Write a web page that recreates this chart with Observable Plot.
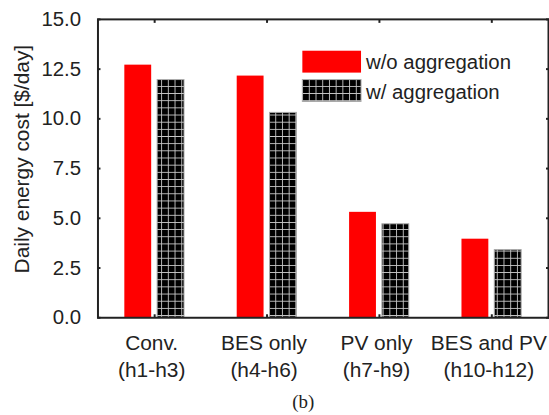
<!DOCTYPE html>
<html><head><meta charset="utf-8">
<script src="https://cdn.jsdelivr.net/npm/d3@7"></script>
<script src="https://cdn.jsdelivr.net/npm/@observablehq/plot@0.6"></script>
<style>
html,body{margin:0;padding:0;background:#fff;overflow:hidden;width:549px;height:415px}
#chart{position:relative}
</style></head><body><div id="chart"></div>
<script>
const categories = ["Conv.\n(h1-h3)", "BES only\n(h4-h6)", "PV only\n(h7-h9)", "BES and PV\n(h10-h12)"];
const seriesNames = ["w/o aggregation", "w/ aggregation"];
const withoutAgg = [12.7, 12.15, 5.3, 3.95];
const withAgg = [11.95, 10.3, 4.7, 3.4];
const yTicks = [0, 2.5, 5, 7.5, 10, 12.5, 15];
const yLabel = "Daily energy cost [$/day]";
const caption = "(b)";

const data = categories.flatMap((c, i) => [
  {cat: c, series: seriesNames[0], value: withoutAgg[i]},
  {cat: c, series: seriesNames[1], value: withAgg[i]}
]);

const font = "'Liberation Sans', Arial, sans-serif";
const ink = "#222";

const plot = Plot.plot({
  width: 552, height: 415,
  marginLeft: 98, marginRight: 1, marginTop: 19, marginBottom: 96,
  style: {fontFamily: font, fontSize: "20px", color: ink, background: "transparent", overflow: "visible"},
  x: {domain: categories, paddingInner: 0.469, paddingOuter: 0.2345, label: null},
  y: {domain: [0, 15], label: null},
  marks: [
    Plot.barY(data.filter(d => d.series === seriesNames[0]), {x: "cat", y: "value", fill: "#ff0000", insetRight: 33}),
    Plot.barY(data.filter(d => d.series === seriesNames[1]), {x: "cat", y: "value", fill: "url(#gridHatch)", stroke: "#aaa", strokeWidth: 1, insetLeft: 33}),
    Plot.frame({stroke: ink, strokeWidth: 2}),
    Plot.axisY({ticks: yTicks, tickFormat: d3.format(".1f"), tickSize: 0, tickPadding: 17, fontSize: 20.5}),
    Plot.axisY({ticks: yTicks, tickSize: 3, dx: 3, text: null, strokeWidth: 2}),
    Plot.axisY({anchor: "right", ticks: yTicks, tickSize: 3, dx: -3, text: null, strokeWidth: 2}),
    Plot.axisX({tickSize: 0, tickPadding: 13, fontSize: 21, lineHeight: 1.3, dx: -3}),
    Plot.axisX({tickSize: 3, dy: -3, text: null, strokeWidth: 2}),
    Plot.axisX({anchor: "top", tickSize: 3, dy: 3, text: null, strokeWidth: 2})
  ]
});

const svg = d3.select(plot);
const defs = svg.insert("defs", ":first-child");
const pat = defs.append("pattern").attr("id", "gridHatch").attr("patternUnits", "userSpaceOnUse")
  .attr("width", 6.75).attr("height", 7.2);
pat.append("rect").attr("width", 6.75).attr("height", 7.2).attr("fill", "#c8c8c8");
pat.append("rect").attr("x", 0.9).attr("y", 0.9).attr("width", 5.85).attr("height", 6.3).attr("fill", "#000");

// legend
const legend = svg.append("g").attr("font-family", font).attr("font-size", 20.5).attr("fill", ink).attr("text-anchor", "start");
const fills = ["#ff0000", "url(#gridHatch)"];
seriesNames.forEach((s, i) => {
  legend.append("rect").attr("x", 304).attr("y", 51 + i * 29).attr("width", 59).attr("height", 22)
    .attr("fill", fills[i]).attr("stroke", i ? "#aaa" : "none");
  legend.append("text").attr("x", 368).attr("y", 62 + i * 30).attr("dy", "0.35em").text(s);
});

// y title
svg.append("text").attr("transform", "translate(22,160) rotate(-90)")
  .attr("text-anchor", "middle").attr("dy", "0.35em")
  .attr("font-family", font).attr("font-size", 21).attr("fill", ink).text(yLabel);

// caption
svg.append("text").attr("x", 305).attr("y", 410).attr("text-anchor", "middle")
  .attr("font-family", "'Liberation Serif', 'Times New Roman', serif").attr("font-size", 19).attr("fill", ink).text(caption);

document.getElementById("chart").appendChild(plot);
</script></body></html>
